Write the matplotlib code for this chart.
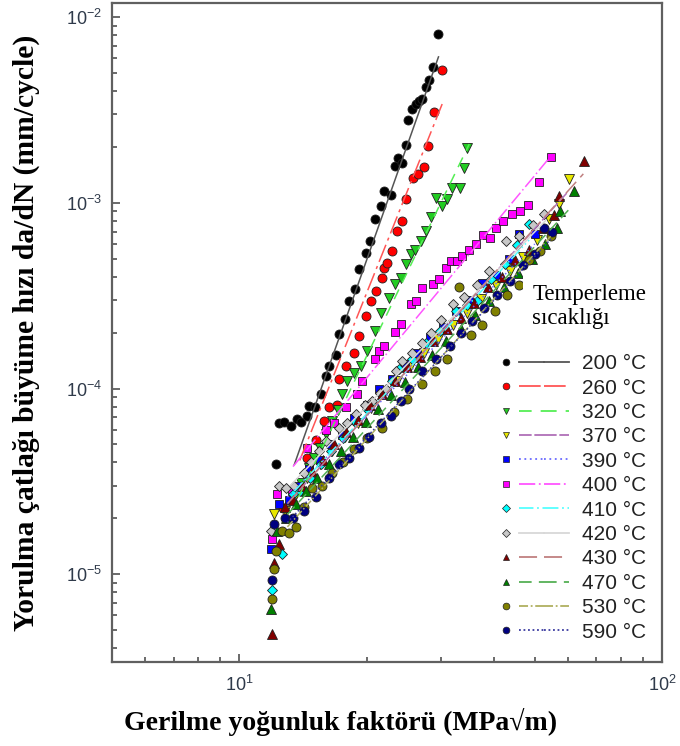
import matplotlib
matplotlib.use("Agg")
import matplotlib.pyplot as plt
from matplotlib.lines import Line2D
from matplotlib.legend_handler import HandlerTuple
from matplotlib.ticker import LogLocator, NullFormatter

plt.rcParams['mathtext.fontset'] = 'custom'
plt.rcParams['mathtext.rm'] = 'Liberation Sans'
plt.rcParams['mathtext.it'] = 'Liberation Sans'
plt.rcParams['font.family'] = ['Liberation Sans', 'DejaVu Sans']

# tempering temperatures (°C)
temps = [200, 260, 320, 370, 390, 400, 410, 420, 430, 470, 530, 590]

# measured points: K = stress intensity range (MPa√m), r = da/dN (mm/cycle)
k_200 = [12.23, 12.43, 12.78, 13.27, 13.72, 14.0, 14.5, 14.64, 15.1, 15.6, 16.0, 16.3, 16.9,
         17.24, 17.8, 18.21, 18.8, 19.22, 19.9, 20.4, 21.0, 21.6, 22.05, 22.9, 23.3, 23.8,
         24.3, 24.8, 25.1, 25.6, 26.2, 26.66, 27.1, 27.6, 28.15, 28.7, 29.6]
r_200 = [3.92e-5, 6.52e-5, 6.6e-5, 6.28e-5, 6.84e-5, 6.6e-5, 7.1e-5, 8.03e-5, 8.0e-5, 9.3e-5,
         1.17e-4, 1.32e-4, 1.51e-4, 1.96e-4, 2.37e-4, 2.96e-4, 3.43e-4, 4.4e-4, 5.36e-4, 6.22e-4,
         8.17e-4, 9.6e-4, 1.16e-3, 1.10e-3, 1.58e-3, 1.74e-3, 1.64e-3, 2.05e-3, 2.79e-3, 3.2e-3,
         3.4e-3, 3.53e-3, 3.62e-3, 4.2e-3, 4.58e-3, 5.38e-3, 8.1e-3]

k_260 = [12.7, 14.5, 15.2, 15.9, 16.3, 17.0, 17.2, 17.9, 18.7, 19.2, 19.9, 20.5, 21.1, 21.8,
         22.0, 22.4, 23.0, 23.6, 24.3, 24.8, 25.7, 26.5, 27.3, 28.0, 28.9, 30.1]
r_260 = [2.27e-5, 4.2e-5, 5.3e-5, 6.7e-5, 8.0e-5, 8.2e-5, 1.12e-4, 1.32e-4, 1.55e-4, 1.91e-4,
         2.45e-4, 2.96e-4, 3.35e-4, 3.93e-4, 4.45e-4, 4.73e-4, 5.5e-4, 7.05e-4, 7.96e-4, 1.05e-3,
         1.36e-3, 1.43e-3, 1.56e-3, 2.02e-3, 3.08e-3, 5.2e-3]

k_320 = [14.0, 14.6, 15.0, 15.5, 16.0, 16.6, 17.1, 17.5, 18.0, 18.7, 19.4, 20.1, 21.0, 21.7,
         22.6, 23.3, 24.1, 24.8, 25.5, 26.1, 26.9, 27.7, 28.4, 29.2, 30.2, 31.0, 31.9, 33.2,
         34.1, 34.6]
r_320 = [3.1e-5, 3.72e-5, 4.2e-5, 4.8e-5, 5.7e-5, 6.7e-5, 7.7e-5, 9.4e-5, 1.10e-4, 1.21e-4,
         1.32e-4, 1.59e-4, 2.04e-4, 2.55e-4, 3.07e-4, 3.65e-4, 3.93e-4, 4.68e-4, 5.3e-4, 5.6e-4,
         6.2e-4, 7.05e-4, 8.4e-4, 1.06e-3, 9.6e-4, 1.05e-3, 1.2e-3, 1.2e-3, 1.54e-3, 1.97e-3]

k_370 = [12.1, 12.8, 13.6, 14.5, 15.5, 16.6, 17.8, 19.1, 20.5, 22.0, 23.6, 25.4, 27.4, 29.6,
         32.0, 34.6, 37.4, 40.4, 43.6, 47.0, 50.5, 54.1, 57.2, 60.4]
r_370 = [2.1e-5, 2.2e-5, 2.7e-5, 3.3e-5, 3.9e-5, 4.6e-5, 5.5e-5, 6.5e-5, 7.9e-5, 9.5e-5,
         1.1e-4, 1.3e-4, 1.55e-4, 1.85e-4, 2.2e-4, 2.55e-4, 3.05e-4, 3.6e-4, 4.3e-4, 5.1e-4,
         6.3e-4, 8.2e-4, 9.8e-4, 1.34e-3]

k_390 = [11.9, 12.4, 13.1, 13.8, 14.6, 15.5, 16.4, 17.5, 18.7, 20.0, 21.4, 23.0, 24.6, 26.4,
         28.3, 30.4, 32.6, 35.0, 37.6, 40.4, 43.4, 45.9, 50.0]
r_390 = [1.36e-5, 2.4e-5, 2.5e-5, 3.0e-5, 3.7e-5, 4.1e-5, 5.0e-5, 5.6e-5, 6.9e-5, 8.2e-5,
         1.0e-4, 1.13e-4, 1.36e-4, 1.55e-4, 1.9e-4, 2.15e-4, 2.6e-4, 3.0e-4, 3.7e-4, 4.1e-4,
         5.0e-4, 6.8e-4, 6.8e-4]

k_400 = [11.97, 12.3, 13.3, 14.5, 16.0, 16.8, 17.9, 19.0, 19.5, 20.9, 21.4, 22.0, 23.3, 24.1,
         25.5, 26.2, 27.1, 28.8, 29.7, 30.9, 31.7, 32.8, 33.7, 35.0, 36.3, 37.8, 39.2, 40.4,
         42.1, 44.2, 46.2, 48.3, 51.3, 54.5]
r_400 = [1.55e-5, 2.7e-5, 2.8e-5, 4.8e-5, 6.0e-5, 6.5e-5, 8.0e-5, 9.3e-5, 1.10e-4, 1.44e-4,
         1.59e-4, 1.69e-4, 2.01e-4, 2.22e-4, 2.85e-4, 2.96e-4, 3.47e-4, 3.65e-4, 3.88e-4, 4.45e-4,
         4.86e-4, 4.86e-4, 5.16e-4, 5.6e-4, 6.0e-4, 6.7e-4, 6.46e-4, 7.3e-4, 8.0e-4, 8.7e-4,
         9.0e-4, 9.7e-4, 1.29e-3, 1.76e-3]

k_410 = [11.97, 12.6, 13.4, 13.9, 14.7, 15.6, 16.5, 17.6, 18.8, 20.1, 21.5, 23.0, 23.9, 25.6,
         27.7, 29.8, 32.6, 34.6, 36.6, 39.5, 42.5, 45.5, 48.5]
r_410 = [8.2e-6, 1.28e-5, 2.7e-5, 2.8e-5, 3.3e-5, 3.9e-5, 4.6e-5, 5.4e-5, 6.6e-5, 7.8e-5,
         9.5e-5, 1.1e-4, 1.28e-4, 1.45e-4, 1.75e-4, 2.05e-4, 2.6e-4, 2.8e-4, 2.96e-4, 3.9e-4,
         4.7e-4, 5.9e-4, 7.7e-4]

k_420 = [11.9, 12.4, 12.9, 13.5, 14.2, 14.8, 15.4, 16.0, 17.2, 18.0, 18.9, 19.8, 20.6, 21.5,
         22.3, 23.5, 24.3, 25.6, 27.0, 28.4, 30.0, 32.0, 34.0, 36.5, 39.0, 42.8, 46.0, 49.5, 52.7]
r_420 = [1.71e-5, 3.0e-5, 2.9e-5, 3.0e-5, 3.5e-5, 4.0e-5, 4.6e-5, 5.2e-5, 6.1e-5, 6.5e-5,
         7.3e-5, 8.2e-5, 8.6e-5, 9.5e-5, 1.0e-4, 1.24e-4, 1.4e-4, 1.55e-4, 1.75e-4, 2.0e-4,
         2.35e-4, 2.85e-4, 3.1e-4, 3.6e-4, 4.3e-4, 6.2e-4, 6.6e-4, 7.6e-4, 8.7e-4]

k_430 = [11.97, 12.1, 12.4, 12.8, 13.4, 14.1, 14.9, 15.8, 16.8, 17.9, 19.1, 20.4, 21.8, 23.3,
         25.0, 26.8, 28.8, 31.0, 33.4, 36.0, 38.8, 41.8, 45.0, 48.5, 52.3, 55.5, 57.2, 65.5]
r_430 = [4.75e-6, 1.15e-5, 1.45e-5, 2.3e-5, 2.5e-5, 3.0e-5, 3.6e-5, 4.1e-5, 5.0e-5, 5.8e-5,
         6.8e-5, 8.2e-5, 9.4e-5, 1.1e-4, 1.3e-4, 1.48e-4, 1.8e-4, 2.1e-4, 2.4e-4, 2.9e-4,
         3.5e-4, 4.0e-4, 4.9e-4, 5.6e-4, 7.3e-4, 8.6e-4, 1.09e-3, 1.68e-3]

k_470 = [11.9, 12.3, 12.9, 13.6, 14.4, 15.3, 16.3, 17.4, 18.6, 19.9, 21.3, 22.9, 24.6, 26.5,
         28.6, 30.9, 33.4, 36.1, 39.0, 42.2, 45.6, 49.3, 53.0, 56.3, 57.5, 62.0]
r_470 = [6.5e-6, 1.7e-5, 2.0e-5, 2.4e-5, 2.8e-5, 3.3e-5, 3.9e-5, 4.6e-5, 5.5e-5, 6.6e-5,
         7.8e-5, 9.2e-5, 1.09e-4, 1.3e-4, 1.52e-4, 1.8e-4, 2.1e-4, 2.5e-4, 2.95e-4, 3.5e-4,
         4.2e-4, 5.0e-4, 6.0e-4, 7.3e-4, 9.0e-4, 1.16e-3]

k_530 = [11.97, 12.1, 12.2, 12.6, 13.1, 13.6, 14.2, 14.9, 15.7, 16.6, 17.6, 18.7, 20.0, 21.8,
         23.2, 25.0, 27.0, 29.0, 31.0, 33.1, 35.3, 37.5, 40.2, 43.0, 45.8, 48.5, 51.5, 54.5]
r_530 = [7.4e-6, 1.07e-5, 1.33e-5, 1.71e-5, 1.66e-5, 1.8e-5, 2.3e-5, 2.9e-5, 3.0e-5, 3.5e-5,
         4.0e-5, 4.7e-5, 5.4e-5, 6.1e-5, 7.5e-5, 8.8e-5, 1.06e-4, 1.25e-4, 1.45e-4, 3.5e-4,
         1.95e-4, 2.2e-4, 2.6e-4, 3.2e-4, 3.6e-4, 4.9e-4, 5.5e-4, 6.6e-4]

k_590 = [11.97, 12.1, 12.8, 13.4, 14.2, 15.2, 16.3, 17.2, 18.2, 19.2, 20.3, 21.7, 22.9, 24.1,
         25.25, 27.1, 29.2, 31.5, 33.5, 35.6, 38.0, 40.8, 43.8, 47.0, 50.0, 52.7, 55.0]
r_590 = [9.3e-6, 1.86e-5, 2.0e-5, 2.0e-5, 2.2e-5, 2.6e-5, 3.3e-5, 3.9e-5, 4.2e-5, 4.8e-5,
         5.5e-5, 6.5e-5, 7.1e-5, 8.6e-5, 1.0e-4, 1.24e-4, 1.45e-4, 1.7e-4, 2.0e-4, 2.3e-4,
         2.7e-4, 3.2e-4, 3.8e-4, 4.6e-4, 5.3e-4, 7.3e-4, 7.0e-4]

# fitted Paris-law lines (start / end points), same order as temps
fit_k0 = [13.5, 13.9, 13.8, 13.2, 13.0, 13.4, 13.5, 13.2, 13.0, 13.0, 13.0, 13.0]
fit_k1 = [29.6, 30.2, 35.0, 60.0, 50.0, 54.1, 48.5, 53.0, 65.5, 61.3, 54.5, 55.0]
fit_r0 = [3.9e-5, 4.1e-5, 2.6e-5, 2.5e-5, 2.6e-5, 3.8e-5, 2.8e-5, 3.0e-5, 2.4e-5, 2.1e-5, 1.8e-5, 1.9e-5]
fit_r1 = [6.1e-3, 3.4e-3, 2.07e-3, 1.15e-3, 6.0e-4, 1.74e-3, 6.3e-4, 8.0e-4, 1.45e-3, 9.6e-4, 6.6e-4, 6.5e-4]

k_data = [k_200, k_260, k_320, k_370, k_390, k_400, k_410, k_420, k_430, k_470, k_530, k_590]
r_data = [r_200, r_260, r_320, r_370, r_390, r_400, r_410, r_420, r_430, r_470, r_530, r_590]

markers = ['o', 'o', 'v', 'v', 's', 's', 'D', 'D', '^', '^', 'o', 'o']
msizes = [6.5, 6.5, 6.5, 6.5, 6, 6, 5.5, 5.5, 6.5, 6.5, 6.5, 6.5]
mcolors = ['#000000', '#ff0000', '#22cc22', '#e8e800', '#0000ff', '#ff00ff',
           '#00ffff', '#c8c8c8', '#800000', '#008000', '#808000', '#000080']
lcolors = ['#555555', '#ff5555', '#55ee55', '#b070b8', '#6a6aff', '#ff55ff',
           '#55ffff', '#d8d8d8', '#c08080', '#55b055', '#b0b060', '#3a3aa0']
lstyles = ['-', (0, (12, 3, 2, 3)), (0, (7, 5)), (0, (7, 1.5)), (0, (1, 2)), (0, (9, 2, 1, 2)),
           (0, (8, 2, 1, 2, 1, 2)), '-', (0, (10, 4, 3, 4)), (0, (7, 4)), (0, (5, 1.5, 1, 1.5)),
           (0, (1, 1.5))]

fig = plt.figure(figsize=(6.8, 7.46), dpi=100)
ax = fig.add_axes([0.1647, 0.1126, 0.8088, 0.8834])

for i in range(len(temps)):
    ax.plot(k_data[i], r_data[i], ls='none', marker=markers[i], ms=msizes[i],
            mfc=mcolors[i], mec='#202020', mew=0.6, zorder=2)
for i in range(len(temps)):
    ax.plot([fit_k0[i], fit_k1[i]], [fit_r0[i], fit_r1[i]], color=lcolors[i],
            ls=lstyles[i], lw=1.1, zorder=3)

ax.set_xscale('log')
ax.set_yscale('log')
ax.set_xlim(5, 100)
ax.set_ylim(3.37e-6, 1.19e-2)

ax.set_xticks([10, 100])
ax.set_xticklabels([r'$10^{1}$', r'$10^{2}$'])
ax.set_yticks([1e-5, 1e-4, 1e-3, 1e-2])
ax.set_yticklabels([r'$10^{-5}$', r'$10^{-4}$', r'$10^{-3}$', r'$10^{-2}$'])
ax.xaxis.set_minor_locator(LogLocator(base=10, subs=range(2, 10)))
ax.yaxis.set_minor_locator(LogLocator(base=10, subs=range(2, 10)))
ax.xaxis.set_minor_formatter(NullFormatter())
ax.yaxis.set_minor_formatter(NullFormatter())
ax.tick_params(which='both', direction='in', top=False, right=False,
               color='#505050', width=1.2, labelsize=13, labelcolor='#2f3a4a')
ax.tick_params(which='major', length=6)
ax.tick_params(which='minor', length=3.5)
ax.tick_params(axis='y', pad=7)
ax.tick_params(axis='x', pad=9)
for s in ax.spines.values():
    s.set_color('#606060')
    s.set_linewidth(1.6)

ax.set_xlabel('Gerilme yoğunluk faktörü (MPa√m)', fontsize=20, fontweight='bold',
              family=['Liberation Serif', 'DejaVu Serif'])
ax.set_ylabel('Yorulma çatlağı büyüme hızı da/dN (mm/cycle)', fontsize=21.3,
              fontweight='bold', family=['Liberation Serif', 'DejaVu Serif'])
ax.xaxis.set_label_coords(0.415, -0.07)
ax.yaxis.set_label_coords(-0.131, 0.5)

handles = []
labels = []
for i in range(len(temps)):
    mk = Line2D([], [], ls='none', marker=markers[i], ms=msizes[i] * 0.75,
                mfc=mcolors[i], mec='#202020', mew=0.5)
    ln = Line2D([], [], color=lcolors[i], ls=lstyles[i], lw=1.3)
    handles.append((mk, ln, ln))
    labels.append(f'{temps[i]} °C')

leg = ax.legend(handles, labels, handler_map={tuple: HandlerTuple(ndivide=3, pad=0)},
                loc='lower right', bbox_to_anchor=(0.99, 0.015), frameon=False,
                title='Temperleme\nsıcaklığı', alignment='right',
                title_fontproperties={'family': 'Liberation Serif', 'size': 16.5},
                prop={'family': 'Liberation Sans', 'size': 15},
                handlelength=3.6, handletextpad=0.62, labelspacing=0.26, borderpad=0)
ttl = leg.get_title()
ttl.set_multialignment('left')
ttl.set_linespacing(1.2)
ttl.set_bbox(dict(facecolor='white', edgecolor='none', pad=7))
leg._legend_box.sep = 18
for t in leg.get_texts():
    t.set_color('#222222')

fig.savefig('out.png', dpi=100)
